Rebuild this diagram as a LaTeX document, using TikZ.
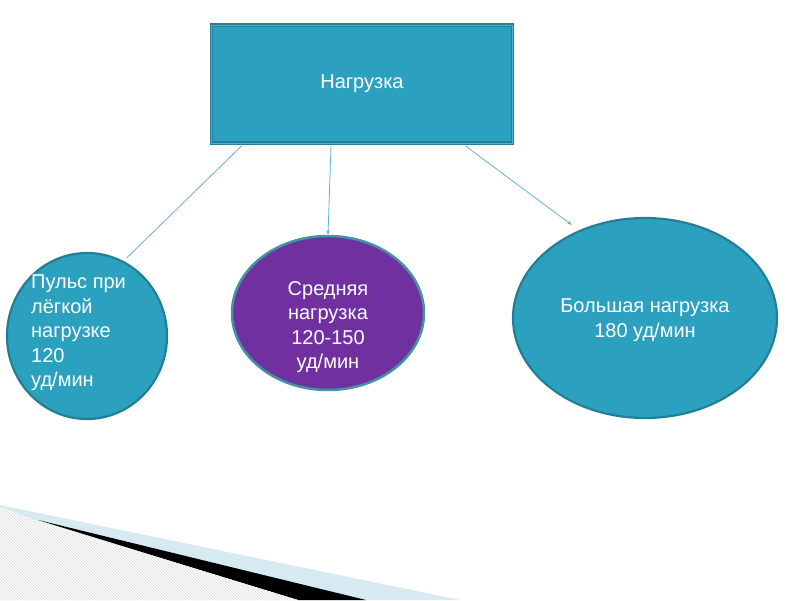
\documentclass[tikz,border=0pt]{standalone}
\usepackage{fontspec}
\setmainfont{Liberation Sans}
\usepackage{xcolor}
\usepackage{tikz}
\usetikzlibrary{arrows.meta,positioning,calc,shapes.geometric,patterns}

\definecolor{tealfill}{HTML}{2CA1BF}
\definecolor{tealedge}{HTML}{237F96}
\definecolor{tealrim}{HTML}{4FB3CC}
\definecolor{violetfill}{HTML}{7030A0}
\definecolor{linkblue}{HTML}{5DB6D0}
\definecolor{paleblue}{HTML}{D7EAF1}

\begin{document}
\begin{tikzpicture}[x=1pt,y=-1pt,
    lbl/.style={text=white, font=\fontsize{20}{24.5}\selectfont, inner sep=0pt},
    bubble/.style={ellipse, draw=tealedge, line width=2.2pt, inner sep=0pt},
    link/.style={draw=linkblue, line width=0.8pt},
    tip/.style={-{Stealth[length=4.5pt,width=3.5pt]}}]
          \useasboundingbox (0,0) rectangle (800,600);
          % Bottom corner decoration
          \fill[paleblue] (0,505) -- (460,600) -- (0,600) -- cycle;
          \fill[black] (38,520) -- (366,600) -- (298,600) -- cycle;
          \fill[white] (0,507) -- (38,521) -- (298,600) -- (0,600) -- cycle;
          \fill[pattern=north west lines, pattern color=gray!30]
            (0,507) -- (38,521) -- (298,600) -- (0,600) -- cycle;
          % Title box
          \node[lbl, rectangle, fill=tealfill, draw=tealedge, line width=1.5pt,
            double=tealrim, double distance=0.8pt,
            minimum width=301pt, minimum height=118pt] (load) at (362,84) {Нагрузка};
          % Three bubbles
          \node[bubble, fill=tealfill, minimum width=160pt, minimum height=166pt] (light) at (87,336) {};
          \node[lbl, align=left, anchor=west] (lighttxt) at (31,333)
            {Пульс при\\лёгкой\\нагрузке\\120\\уд/мин};
          \node[bubble, fill=violetfill, draw=tealedge!85, line width=2.5pt,
            minimum width=192pt, minimum height=154pt] (medium) at (328,313) {};
          \node[lbl, align=center] (mediumtxt) at (328,327)
            {Средняя\\нагрузка\\120-150\\уд/мин};
          \node[bubble, fill=tealfill, minimum width=264pt, minimum height=200pt] (heavy) at (645,318) {};
          \node[lbl, align=center] (heavytxt) at (645,320)
            {Большая нагрузка\\180 уд/мин};
          % Connectors
          \draw[link, shorten >=4pt] ($(load.south west)+(31,2)$) -- (light.64);
          \draw[link, tip] ($(load.south)+(-31,2)$) -- (medium.north);
          \draw[link, tip, shorten >=9pt] ($(load.south east)+(-48,2)$) -- (heavy.127);
        \end{tikzpicture}
\end{document}
